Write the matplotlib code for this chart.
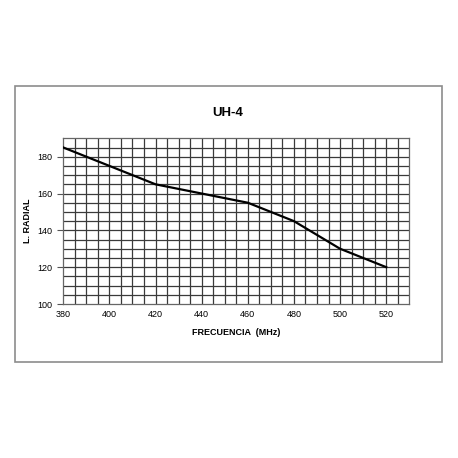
import matplotlib.pyplot as plt
from matplotlib.patches import Rectangle
import numpy as np

plt.rcParams['font.family'] = ['Liberation Sans', 'DejaVu Sans']

# data
freq = [380, 400, 420, 440, 460, 480, 500, 520]
radial = [185, 175, 165, 160, 155, 145, 130, 120]
x_ticks = [380, 400, 420, 440, 460, 480, 500, 520]
y_ticks = [100, 120, 140, 160, 180]

W = 458
fig = plt.figure(figsize=(4.58, 4.58), dpi=100)

# outer gray frame
fig.patches.append(Rectangle((14.7 / W, 1 - 362.3 / W), (441.7 - 14.7) / W, (362.3 - 85.7) / W,
                             transform=fig.transFigure, fill=False, edgecolor='#8c8c8c', lw=1.2))

ax = fig.add_axes([63.3 / W, 1 - 304 / W, (409.3 - 63.3) / W, (304 - 138.3) / W])

# grid every 5 units
for gx in np.arange(385, 530, 5):
    ax.axvline(gx, color='#3a3a3a', lw=0.9, zorder=1)
for gy in np.arange(105, 190, 5):
    ax.axhline(gy, color='#3a3a3a', lw=0.9, zorder=1)

ax.plot(freq, radial, color='black', lw=1.6, zorder=3)

ax.set_xlim(380, 530)
ax.set_ylim(100, 190)
ax.set_xticks(x_ticks)
ax.set_yticks(y_ticks)
ax.tick_params(axis='both', labelsize=6.5, length=4, width=0.8, color='#555555', pad=4)
ax.tick_params(axis='x', length=0, pad=4)
for s in ax.spines.values():
    s.set_color('#666666')
    s.set_linewidth(0.9)

ax.set_xlabel('FRECUENCIA  (MHz)', fontsize=6.5, fontweight='bold', labelpad=7)
ax.set_ylabel('L. RADIAL', fontsize=6.5, fontweight='bold', labelpad=4)

fig.text(228 / W, 1 - 113.3 / W, 'UH-4', ha='center', va='center', fontsize=9.5, fontweight='bold')

fig.savefig('out.png', dpi=100)
